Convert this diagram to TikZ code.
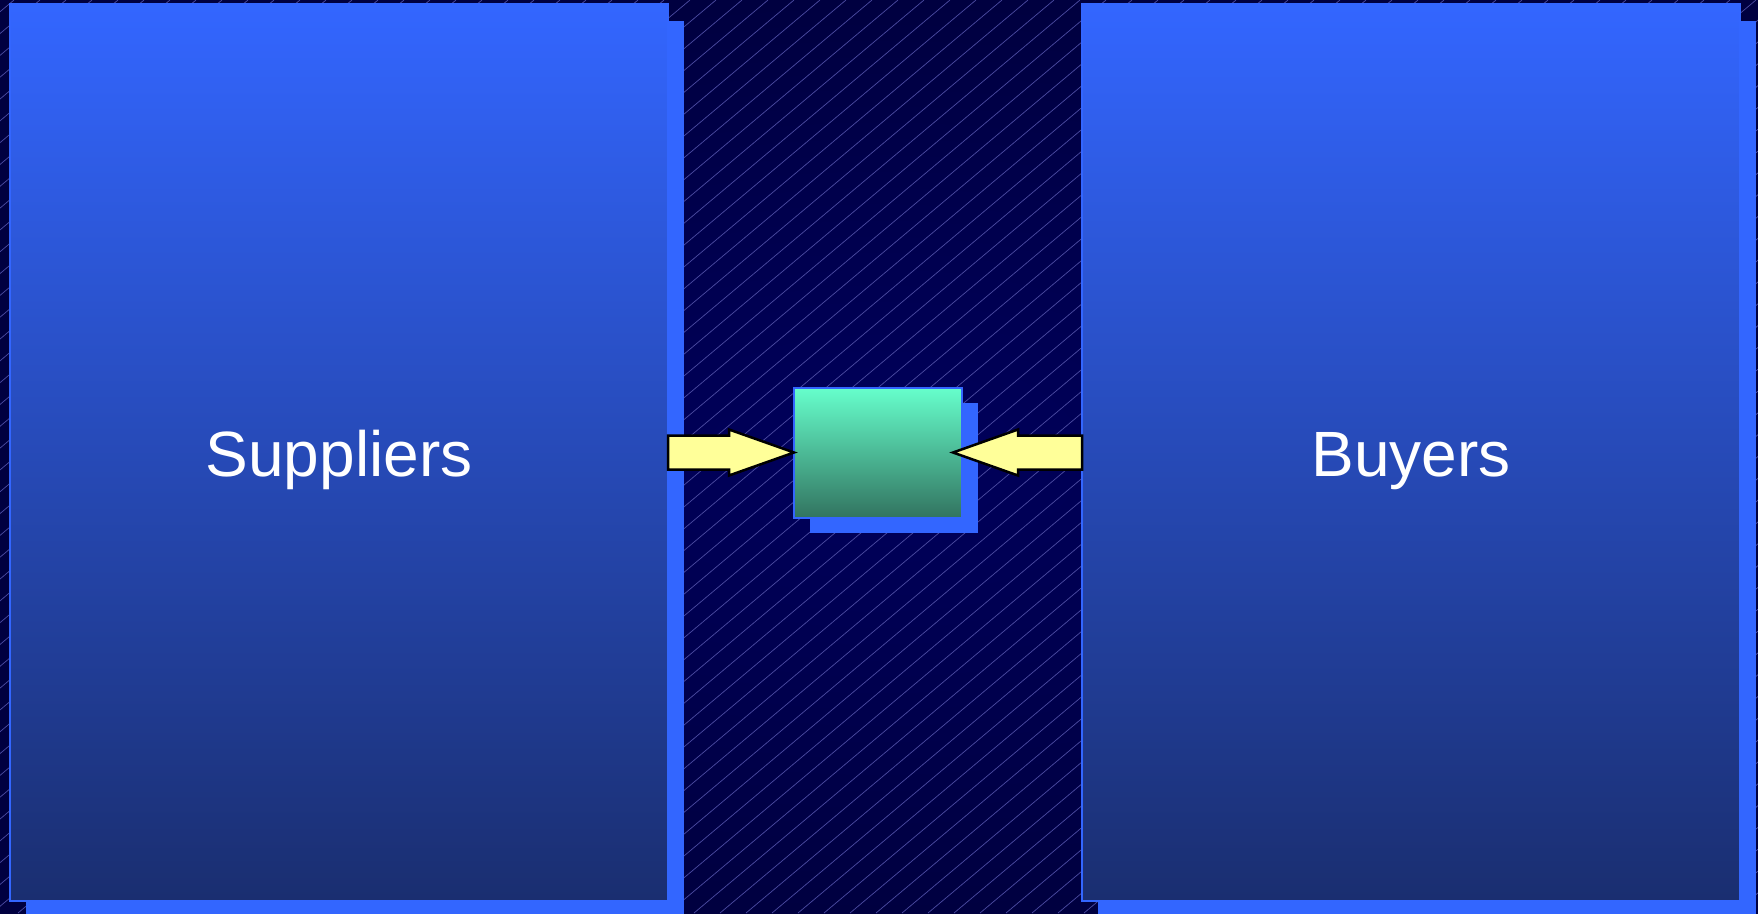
\documentclass[tikz,border=0pt]{standalone}
\usepackage{fontspec}
\setmainfont{Liberation Sans}
\usepackage{tikz}
\usetikzlibrary{positioning,shadows}

\definecolor{bgmid}{HTML}{00005C}
\definecolor{bgedge}{HTML}{000040}
\definecolor{hatchline}{HTML}{4C4CA2}
\definecolor{edgeblue}{HTML}{3366FF}
\definecolor{deepblue}{HTML}{1A2E70}
\definecolor{mint}{HTML}{66FFCC}
\definecolor{darkmint}{HTML}{327460}
\definecolor{paleyellow}{HTML}{FFFF99}

\begin{document}
\begin{tikzpicture}[x=1pt,y=-1pt,outer sep=0pt,
   panel/.style={draw=edgeblue, line width=2pt, inner sep=0pt,
      minimum width=658pt, minimum height=897pt,
      top color=edgeblue, bottom color=deepblue,
      text=white, font=\fontsize{64}{76}\selectfont, text height=48pt, text depth=0pt,
      drop shadow={shadow xshift=16pt, shadow yshift=-17pt, fill=edgeblue, opacity=1}},
   market/.style={draw=edgeblue, line width=2pt, inner sep=0pt,
      minimum width=168pt, minimum height=130pt,
      top color=mint, bottom color=darkmint,
      drop shadow={shadow xshift=16pt, shadow yshift=-15pt, fill=edgeblue, opacity=1}},
   fatarrow/.style={draw=black, line width=2.5pt, fill=paleyellow, line join=miter},
   hatch/.style={draw=hatchline, line width=0.7pt}]
   \useasboundingbox (0,0) rectangle (1758,913);
   \fill[shading=radial, inner color=bgmid, outer color=bgedge] (0,0) rectangle (1758,913);
   \begin{scope}
      \clip (0,0) rectangle (1758,913);
      \foreach \x in {-1100,-1074,...,1758}
         \draw[hatch] (\x,913) -- ++(1088,-913);
   \end{scope}

   \node[panel] (sup) at (339,452.5) {Suppliers};
   \node[market] (mkt) [right=126pt of sup] {};
   \node[panel] (buy) [right=120pt of mkt] {Buyers};

   \draw[fatarrow] (sup.east) ++(0,-17) -- ++(61,0) -- ++(0,-6)
      -- (mkt.west) -- ++(-65,23) -- ++(0,-6) -- ++(-61,0) -- cycle;
   \draw[fatarrow] (buy.west) ++(0,-17) -- ++(-64,0) -- ++(0,-6)
      -- ([xshift=-9pt]mkt.east) -- ++(65,23) -- ++(0,-6) -- ++(64,0) -- cycle;
\end{tikzpicture}
\end{document}
